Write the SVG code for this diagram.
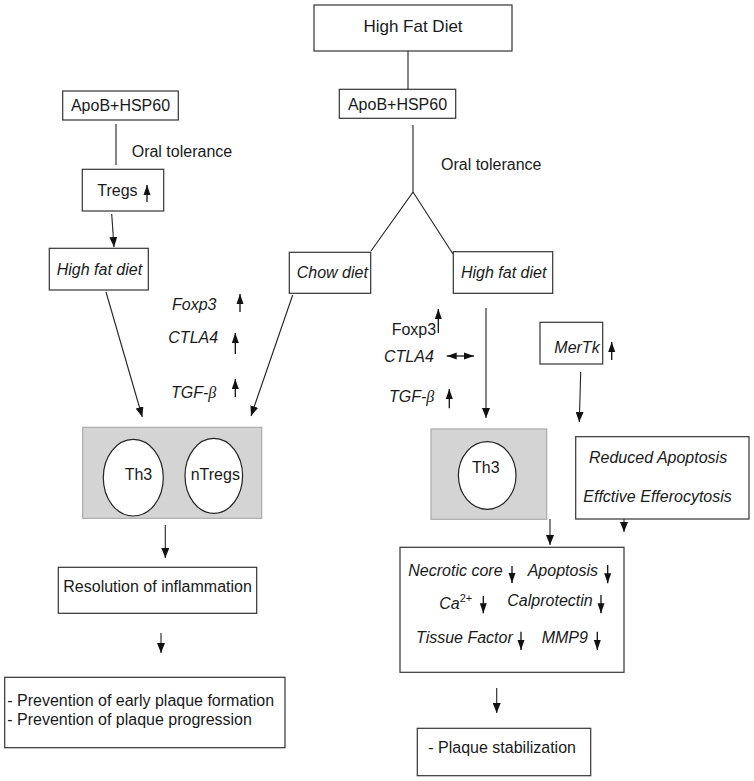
<svg xmlns="http://www.w3.org/2000/svg" width="754" height="781" viewBox="0 0 754 781">
<style>
text{font-family:"Liberation Sans",Arial,sans-serif;font-size:16px;fill:#1a1a1a}
.it{font-style:italic}
.box{fill:#fff;stroke:#333;stroke-width:1.2}
.gray{fill:#d4d4d4;stroke:#aaa;stroke-width:1.2}
.cell{fill:#fff;stroke:#222;stroke-width:1.2}
.ln{fill:none;stroke:#222;stroke-width:1.1}
.ar{fill:none;stroke:#222;stroke-width:1.1;marker-end:url(#ah)}
.sm{fill:none;stroke:#111;stroke-width:1.3;marker-end:url(#sh)}
</style>
<defs>
<marker id="ah" markerUnits="userSpaceOnUse" markerWidth="10" markerHeight="8" refX="10" refY="4" orient="auto"><path d="M0,0 L10,4 L0,8 z" fill="#111"/></marker>
<marker id="sh" markerUnits="userSpaceOnUse" markerWidth="10" markerHeight="8" refX="10" refY="4" orient="auto-start-reverse"><path d="M0,0.5 L10,4 L0,7.5 z" fill="#111"/></marker>
</defs>
<rect width="754" height="781" fill="#fff"/>

<g id="connectors">
<line class="ln" x1="408" y1="51" x2="408" y2="89"/>
<polyline class="ln" points="413,125 413,192 371,251"/>
<line class="ln" x1="413" y1="192" x2="453" y2="254"/>
<line class="ln" x1="116" y1="124" x2="116" y2="165"/>
<line class="ar" x1="111.7" y1="214" x2="114" y2="247"/>
<line class="ar" x1="106" y1="292" x2="142.3" y2="417"/>
<line class="ar" x1="292.7" y1="295" x2="251" y2="416"/>
<line class="ar" x1="486" y1="308" x2="486" y2="418"/>
<line class="ar" x1="580.7" y1="372" x2="579.3" y2="422"/>
<line class="ar" x1="165.3" y1="525" x2="165.3" y2="558"/>
<line class="ar" x1="161" y1="633" x2="161" y2="653"/>
<line class="ar" x1="550" y1="519" x2="550" y2="545"/>
<line class="ar" x1="624" y1="507" x2="624" y2="532"/>
<line class="ar" x1="496.7" y1="688" x2="496.7" y2="713"/>
</g>

<g id="hfd-top"><rect class="box" x="314" y="5" width="198" height="46"/><text x="413" y="32" text-anchor="middle" style="font-size:17px">High Fat Diet</text></g>
<g id="apob-right"><rect class="box" x="339.3" y="89.3" width="116.4" height="29"/><text x="397.5" y="109.5" text-anchor="middle">ApoB+HSP60</text></g>
<g id="oral-right"><text x="441" y="170">Oral tolerance</text></g>
<g id="chow"><rect class="box" x="289.3" y="252.3" width="81.4" height="41"/><text class="it" x="296.7" y="278.3">Chow diet</text></g>
<g id="hfd-right"><rect class="box" x="453.3" y="251.7" width="99.4" height="41.6"/><text class="it" x="461" y="278.3">High fat diet</text></g>

<g id="apob-left"><rect class="box" x="62.7" y="91" width="115.6" height="29"/><text x="120.5" y="111" text-anchor="middle">ApoB+HSP60</text></g>
<g id="oral-left"><text x="131.7" y="156.7">Oral tolerance</text></g>
<g id="tregs"><rect class="box" x="82.3" y="169.3" width="81.4" height="41.7"/><text x="97.3" y="195.7">Tregs</text><line class="sm" x1="147" y1="202" x2="147" y2="185"/></g>
<g id="hfd-left"><rect class="box" x="49.3" y="248.3" width="99" height="41.7"/><text class="it" x="56.7" y="275">High fat diet</text></g>

<g id="markers-left">
<text class="it" x="172" y="310">Foxp3</text><line class="sm" x1="240" y1="312" x2="240" y2="294"/>
<text class="it" x="168.3" y="343.3">CTLA4</text><line class="sm" x1="235.3" y1="354" x2="235.3" y2="333"/>
<text class="it" x="171" y="398.3">TGF-<tspan font-family="'Liberation Serif','Times New Roman',serif">β</tspan></text><line class="sm" x1="235.3" y1="397" x2="235.3" y2="379"/>
</g>

<g id="cells-left">
<rect class="gray" x="82.7" y="427.3" width="179" height="91"/>
<ellipse class="cell" cx="133.3" cy="477.7" rx="30" ry="38.3"/>
<text x="124.7" y="480">Th3</text>
<ellipse class="cell" cx="213.8" cy="475.8" rx="28.8" ry="37.5"/>
<text x="190.7" y="480">nTregs</text>
</g>

<g id="markers-right">
<text x="391.7" y="335">Foxp3</text><line class="sm" x1="438.3" y1="333" x2="438.3" y2="309"/>
<text class="it" x="384" y="361.7">CTLA4</text><line class="sm" x1="446.7" y1="356" x2="474" y2="356" style="marker-start:url(#sh)"/>
<text class="it" x="389" y="401.7">TGF-<tspan font-family="'Liberation Serif','Times New Roman',serif">β</tspan></text><line class="sm" x1="449.3" y1="408.3" x2="449.3" y2="389"/>
</g>

<g id="mertk"><rect class="box" x="540" y="322.3" width="62.7" height="41.7"/><text class="it" x="554.3" y="352.7">MerTk</text><line class="sm" x1="611.7" y1="360" x2="611.7" y2="342"/></g>

<g id="cells-right">
<rect class="gray" x="431" y="429" width="115.7" height="90.3"/>
<ellipse class="cell" cx="487.2" cy="475.5" rx="28.8" ry="33.8"/>
<text x="472" y="473.3">Th3</text>
</g>

<g id="efferocytosis"><rect class="box" x="575.7" y="436.7" width="173.3" height="82.3"/>
<text class="it" x="589" y="463.3">Reduced Apoptosis</text>
<text class="it" x="583.3" y="501.7">Effctive Efferocytosis</text></g>

<g id="resolution"><rect class="box" x="58.3" y="567.3" width="198.4" height="46"/><text x="63.3" y="591.7">Resolution of inflammation</text></g>
<g id="prevention"><rect class="box" x="4.7" y="677.3" width="280.3" height="70.4"/>
<text x="7.3" y="705.7">- Prevention of early plaque formation</text>
<text x="7.3" y="725">- Prevention of plaque progression</text></g>

<g id="outcomes"><rect class="box" x="400" y="547.3" width="224" height="125"/>
<text class="it" x="408.3" y="576">Necrotic core</text><line class="sm" x1="512" y1="566" x2="512" y2="583"/>
<text class="it" x="527.7" y="576">Apoptosis</text><line class="sm" x1="607.7" y1="565" x2="607.7" y2="583.3"/>
<text class="it" x="439.3" y="609">Ca<tspan dy="-7" style="font-size:11px;font-style:normal">2+</tspan></text><line class="sm" x1="483.3" y1="596" x2="483.3" y2="613.3"/>
<text class="it" x="507.3" y="606">Calprotectin</text><line class="sm" x1="601" y1="595" x2="601" y2="613.3"/>
<text class="it" x="416" y="643.3">Tissue Factor</text><line class="sm" x1="521" y1="631.7" x2="521" y2="650"/>
<text class="it" x="541.7" y="643.3">MMP9</text><line class="sm" x1="597.3" y1="631.7" x2="597.3" y2="650"/>
</g>

<g id="plaque"><rect class="box" x="417.3" y="728.3" width="173.4" height="47.4"/><text x="428.3" y="753.3">- Plaque stabilization</text></g>
</svg>
